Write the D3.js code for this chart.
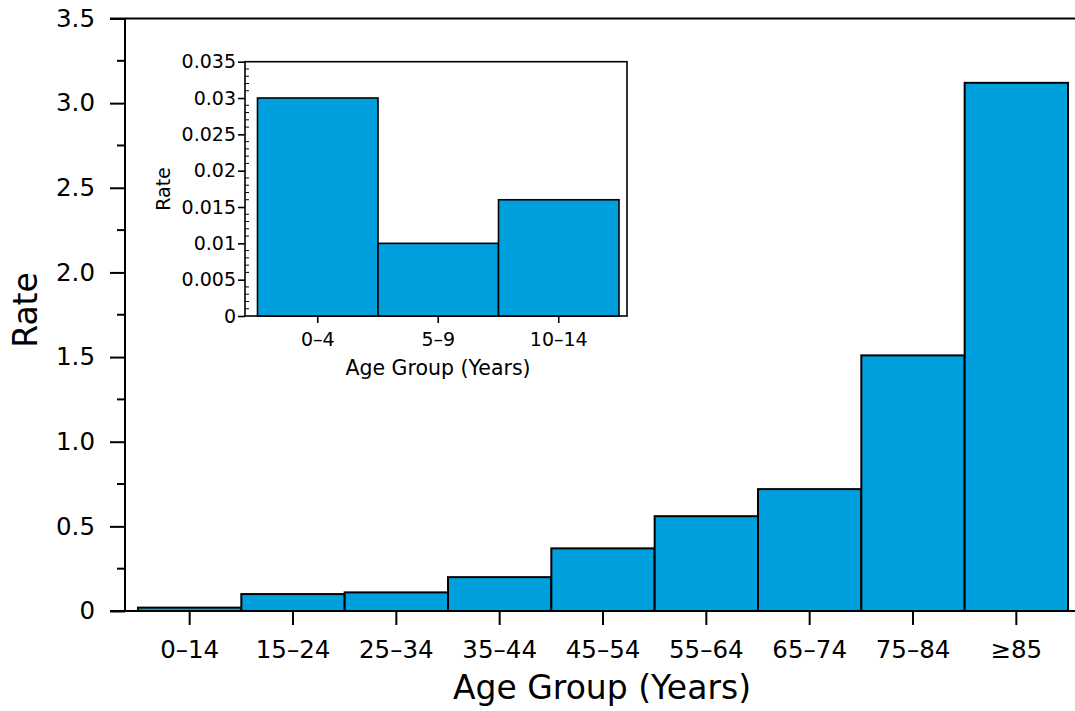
<!DOCTYPE html>
<html>
<head>
<meta charset="utf-8">
<script src="https://cdn.jsdelivr.net/npm/d3@7"></script>
<style>
  html, body { margin: 0; padding: 0; background: #fff; }
  svg { display: block; font-family: "DejaVu Sans", sans-serif; }
</style>
</head>
<body>
<div id="chart"></div>
<script>
// ── Main chart data ──
const ageGroups = ['0–14', '15–24', '25–34', '35–44', '45–54', '55–64', '65–74', '75–84', '≥85'];
const rates = [0.02, 0.10, 0.11, 0.20, 0.37, 0.56, 0.72, 1.51, 3.12];
const yTicks = [0, 0.5, 1.0, 1.5, 2.0, 2.5, 3.0, 3.5];
const yTickLabels = ['0', '0.5', '1.0', '1.5', '2.0', '2.5', '3.0', '3.5'];

// ── Inset data ──
const insetGroups = ['0–4', '5–9', '10–14'];
const insetRates = [0.030, 0.010, 0.016];
const insetTicks = [0, 0.005, 0.01, 0.015, 0.02, 0.025, 0.03, 0.035];
const insetTickLabels = ['0', '0.005', '0.01', '0.015', '0.02', '0.025', '0.03', '0.035'];

const W = 1075, H = 711;
const BAR = '#00A0DF';
const FONT = '"DejaVu Sans", sans-serif';

const svg = d3.select('#chart').append('svg')
  .attr('width', W).attr('height', H);

// ── Main panel ──
const x = d3.scaleBand().domain(ageGroups).range([138, 1068]).padding(0);
const y = d3.scaleLinear().domain([0, 3.5]).range([611, 18.5]);

svg.append('g').selectAll('rect')
  .data(ageGroups)
  .join('rect')
  .attr('x', d => x(d))
  .attr('y', (d, i) => y(rates[i]))
  .attr('width', x.bandwidth())
  .attr('height', (d, i) => y(0) - y(rates[i]))
  .attr('fill', BAR)
  .attr('stroke', '#000')
  .attr('stroke-width', 2);

// y axis: major ticks with labels, minor ticks in between
const yAxis = svg.append('g').attr('transform', 'translate(125,0)')
  .call(d3.axisLeft(y).tickValues(yTicks).tickSize(15).tickPadding(15)
    .tickFormat((d, i) => yTickLabels[i]))
  .attr('font-family', FONT);
yAxis.select('.domain').remove();
yAxis.selectAll('line').attr('stroke-width', 2);
yAxis.selectAll('text').attr('font-size', 24.5).attr('fill', '#000');

svg.append('g').selectAll('line')
  .data(d3.range(0.25, 3.5, 0.5))
  .join('line')
  .attr('x1', 117).attr('x2', 125)
  .attr('y1', d => y(d)).attr('y2', d => y(d))
  .attr('stroke', '#000').attr('stroke-width', 2);

svg.append('line').attr('x1', 125).attr('x2', 125).attr('y1', y(3.5)).attr('y2', y(0))
  .attr('stroke', '#000').attr('stroke-width', 2);
svg.append('line').attr('x1', 110).attr('x2', W).attr('y1', y(3.5)).attr('y2', y(3.5))
  .attr('stroke', '#000').attr('stroke-width', 2);

// x axis
const xAxis = svg.append('g').attr('transform', `translate(0,${y(0)})`)
  .call(d3.axisBottom(x).tickSize(14).tickPadding(16))
  .attr('font-family', FONT);
xAxis.select('.domain').remove();
xAxis.selectAll('line').attr('stroke-width', 2);
xAxis.selectAll('text').attr('font-size', 24.5).attr('fill', '#000');
svg.append('line').attr('x1', 110).attr('x2', W).attr('y1', y(0)).attr('y2', y(0))
  .attr('stroke', '#000').attr('stroke-width', 2);

svg.append('text')
  .attr('x', 602).attr('y', 699)
  .attr('text-anchor', 'middle').attr('font-size', 33)
  .text('Age Group (Years)');

svg.append('text')
  .attr('transform', 'translate(37,310) rotate(-90)')
  .attr('text-anchor', 'middle').attr('font-size', 33)
  .text('Rate');

// ── Inset panel ──
const ix = d3.scaleBand().domain(insetGroups).range([257.5, 619]).padding(0);
const iy = d3.scaleLinear().domain([0, 0.035]).range([316, 61.7]);
const inset = svg.append('g');

inset.append('rect')
  .attr('x', 245).attr('y', iy(0.035))
  .attr('width', 627 - 245).attr('height', iy(0) - iy(0.035))
  .attr('fill', '#fff').attr('stroke', '#000').attr('stroke-width', 1.6);

inset.append('g').selectAll('rect')
  .data(insetGroups)
  .join('rect')
  .attr('x', d => ix(d))
  .attr('y', (d, i) => iy(insetRates[i]))
  .attr('width', ix.bandwidth())
  .attr('height', (d, i) => iy(0) - iy(insetRates[i]))
  .attr('fill', BAR)
  .attr('stroke', '#000')
  .attr('stroke-width', 1.6);

const iyAxis = inset.append('g').attr('transform', 'translate(245,0)')
  .call(d3.axisLeft(iy).tickValues(insetTicks).tickSize(7).tickPadding(2)
    .tickFormat((d, i) => insetTickLabels[i]))
  .attr('font-family', FONT);
iyAxis.select('.domain').remove();
iyAxis.selectAll('line').attr('stroke-width', 1.6);
iyAxis.selectAll('text').attr('font-size', 19).attr('fill', '#000');

inset.append('g').selectAll('line')
  .data(d3.range(0, 0.035, 0.001).filter(v => Math.round(v * 1000) % 5 !== 0))
  .join('line')
  .attr('x1', 245).attr('x2', 249)
  .attr('y1', d => iy(d)).attr('y2', d => iy(d))
  .attr('stroke', '#000').attr('stroke-width', 1);

const ixAxis = inset.append('g').attr('transform', `translate(0,${iy(0)})`)
  .call(d3.axisBottom(ix).tickSize(7).tickPadding(10))
  .attr('font-family', FONT);
ixAxis.select('.domain').remove();
ixAxis.selectAll('line').attr('stroke-width', 1.6);
ixAxis.selectAll('text').attr('font-size', 19).attr('fill', '#000');

inset.append('text')
  .attr('x', 438).attr('y', 375)
  .attr('text-anchor', 'middle').attr('font-size', 20.5)
  .text('Age Group (Years)');

inset.append('text')
  .attr('transform', 'translate(170,189) rotate(-90)')
  .attr('text-anchor', 'middle').attr('font-size', 19)
  .text('Rate');
</script>
</body>
</html>
